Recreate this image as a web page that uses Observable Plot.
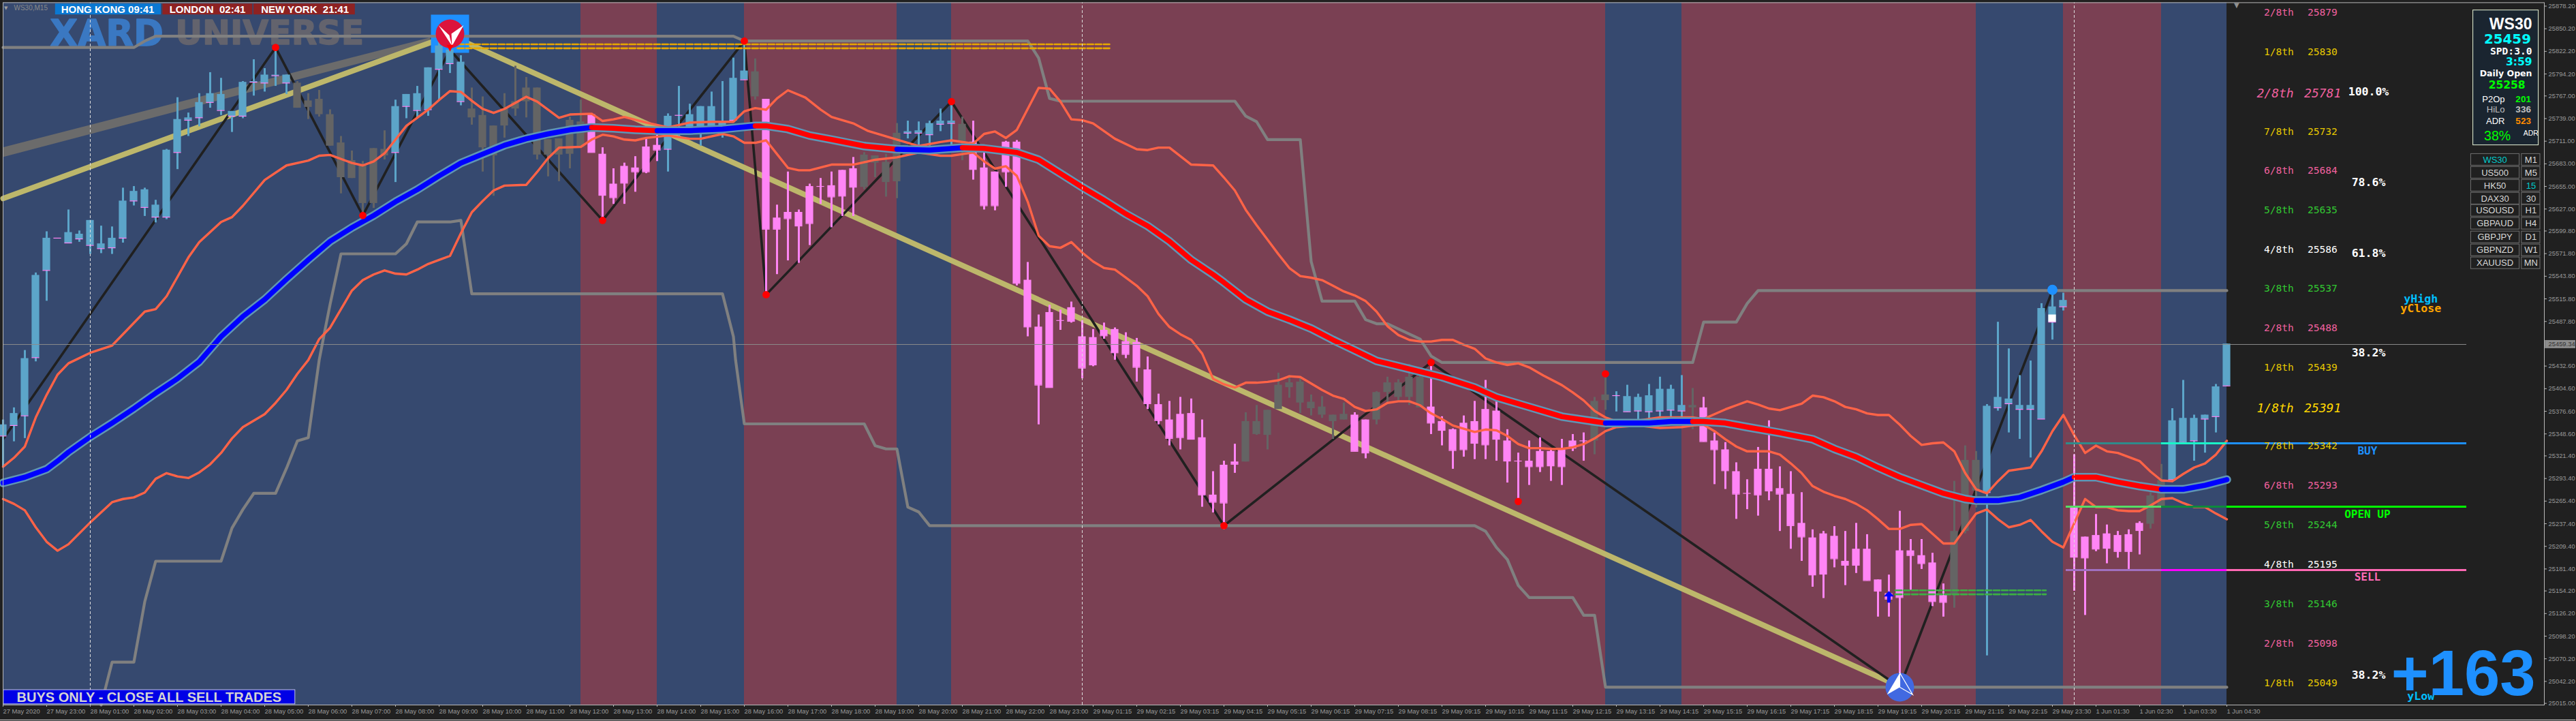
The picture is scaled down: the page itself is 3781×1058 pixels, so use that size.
<!DOCTYPE html>
<html><head><meta charset="utf-8">
<style>html,body{margin:0;padding:0;background:#202020;overflow:hidden}svg{display:block}</style>
<script src="https://cdn.jsdelivr.net/npm/d3@7"></script>
<script src="https://cdn.jsdelivr.net/npm/@observablehq/plot@0.6"></script>
</head><body>
<script>
// ---------- candles (bar index = position in the arrays; 15-minute bars) ----------
const bodyTop=[25360,25374,25442,25545,25591,25591,25598,25596,25613,25584,25591,25637,25649,25651,25632,25700,25738,25740,25759,25770,25769,25748,25784,25785,25793,25793,25793,25783,25761,25763,25744,25709,25687,25681,25702,25701,25754,25769,25770,25802,25829,25824,25809,25751,25743,25730,25751,25760,25777,25777,25713,25714,25737,25735,25744,25695,25658,25680,25678,25704,25706,25742,25743,25744,25754,25754,25736,25789,25798,25797,25763,25616,25623,25623,25655,25655,25656,25675,25677,25694,25693,25685,25721,25723,25724,25733,25736,25736,25732,25710,25678,25673,25710,25710,25539,25481,25499,25489,25505,25469,25468,25477,25478,25463,25462,25428,25385,25366,25373,25374,25344,25273,25310,25314,25364,25364,25378,25409,25412,25413,25388,25382,25372,25373,25372,25366,25400,25412,25412,25419,25419,25382,25364,25354,25362,25364,25379,25377,25340,25315,25315,25327,25327,25329,25340,25340,25389,25397,25396,25395,25394,25396,25404,25404,25384,25384,25381,25340,25329,25302,25275,25305,25305,25281,25274,25238,25220,25225,25222,25191,25206,25206,25168,25151,25204,25204,25198,25189,25150,25228,25316,25316,25383,25394,25392,25384,25384,25504,25506,25514,25259,25221,25223,25225,25223,25224,25238,25272,25291,25365,25368,25368,25372,25407,25460];
const bodyBottom=[25346,25359,25371,25443,25551,25591,25585,25590,25582,25578,25579,25591,25637,25629,25617,25617,25697,25737,25740,25759,25749,25742,25742,25784,25783,25792,25783,25752,25753,25744,25705,25666,25665,25634,25634,25693,25697,25754,25749,25750,25800,25807,25760,25740,25703,25693,25730,25751,25760,25694,25694,25694,25695,25703,25697,25644,25641,25659,25673,25673,25700,25701,25743,25722,25722,25724,25724,25737,25787,25766,25602,25602,25615,25606,25609,25655,25642,25643,25654,25654,25684,25660,25661,25721,25721,25719,25732,25733,25710,25676,25631,25631,25673,25535,25481,25409,25406,25489,25488,25430,25434,25470,25449,25447,25431,25386,25365,25343,25344,25342,25273,25264,25263,25311,25314,25348,25347,25379,25406,25387,25380,25372,25364,25366,25327,25325,25366,25400,25394,25394,25381,25362,25353,25328,25329,25337,25335,25342,25315,25315,25308,25308,25309,25308,25331,25340,25340,25390,25396,25376,25377,25376,25377,25378,25377,25381,25339,25329,25303,25274,25275,25273,25278,25274,25235,25221,25174,25175,25194,25186,25186,25167,25154,25144,25146,25198,25188,25141,25140,25149,25228,25278,25276,25381,25386,25379,25379,25367,25487,25506,25196,25195,25206,25207,25203,25203,25229,25237,25259,25292,25338,25340,25367,25370,25408];
const wickHigh=[25366,25381,25452,25548,25599,25591,25626,25600,25613,25606,25605,25653,25655,25653,25638,25701,25765,25746,25770,25796,25789,25748,25785,25812,25801,25827,25793,25785,25770,25774,25750,25717,25699,25686,25702,25724,25762,25769,25779,25802,25837,25824,25817,25777,25766,25730,25770,25804,25790,25777,25713,25714,25741,25762,25744,25703,25677,25684,25692,25714,25723,25745,25779,25757,25754,25772,25785,25814,25835,25813,25763,25632,25673,25626,25658,25665,25673,25675,25691,25697,25693,25695,25733,25736,25735,25736,25751,25758,25741,25736,25697,25673,25711,25712,25561,25496,25508,25502,25512,25489,25478,25486,25480,25474,25467,25444,25398,25389,25394,25392,25366,25302,25315,25336,25375,25384,25378,25424,25421,25419,25397,25395,25372,25387,25375,25366,25401,25419,25416,25435,25423,25436,25370,25355,25371,25389,25415,25389,25354,25325,25340,25344,25330,25342,25348,25350,25394,25423,25401,25409,25398,25410,25419,25409,25421,25405,25394,25350,25338,25313,25292,25332,25365,25308,25302,25276,25230,25228,25234,25228,25238,25224,25168,25174,25253,25218,25218,25201,25163,25290,25334,25327,25385,25487,25454,25421,25439,25510,25526,25523,25323,25221,25249,25236,25228,25230,25240,25276,25311,25380,25415,25372,25372,25410,25460];
const wickLow=[25307,25339,25343,25438,25513,25591,25585,25586,25571,25572,25571,25585,25631,25618,25610,25614,25676,25717,25729,25752,25743,25722,25739,25767,25772,25779,25769,25752,25738,25741,25705,25646,25665,25621,25628,25688,25660,25739,25740,25742,25761,25795,25755,25731,25673,25643,25715,25742,25740,25688,25667,25661,25677,25703,25697,25614,25633,25633,25648,25671,25686,25673,25717,25722,25705,25724,25715,25737,25787,25762,25521,25546,25563,25560,25582,25633,25604,25618,25618,25651,25666,25642,25640,25714,25705,25705,25723,25705,25687,25663,25626,25625,25654,25532,25469,25360,25406,25477,25486,25417,25432,25466,25440,25442,25413,25379,25360,25334,25329,25342,25258,25251,25230,25300,25314,25347,25329,25379,25393,25374,25371,25368,25342,25366,25327,25318,25360,25387,25390,25384,25381,25348,25334,25305,25320,25317,25317,25315,25288,25265,25285,25301,25290,25285,25327,25315,25323,25378,25376,25376,25364,25364,25370,25369,25366,25354,25339,25286,25280,25243,25255,25247,25266,25228,25206,25191,25159,25145,25183,25161,25176,25167,25122,25122,25052,25155,25181,25135,25122,25133,25225,25257,25074,25377,25350,25342,25319,25367,25465,25501,25154,25124,25203,25188,25195,25181,25199,25231,25259,25292,25338,25315,25325,25350,25408];
const kindRuns=[[0,26,"up"],[27,35,"flat"],[36,42,"up"],[43,53,"flat"],[54,60,"down"],[61,68,"up"],[69,69,"flat"],[70,78,"down"],[79,82,"flat"],[83,87,"up"],[88,88,"flat"],[89,113,"down"],[114,123,"flat"],[124,125,"down"],[126,130,"flat"],[131,145,"down"],[146,147,"flat"],[148,154,"up"],[155,155,"flat"],[156,178,"down"],[179,181,"flat"],[182,189,"up"],[190,196,"down"],[197,198,"flat"],[199,204,"up"]];

// ---------- indicator lines, [bar, price] ----------
const maLine=[[0,25288],[2,25295],[4,25305],[5,25315],[6,25326],[8,25345],[10,25362],[12,25380],[14,25399],[16,25417],[18,25438],[20,25469],[22,25494],[24,25515],[26,25540],[28,25564],[30,25587],[32,25604],[34,25619],[36,25636],[38,25651],[40,25668],[42,25684],[44,25695],[46,25706],[48,25714],[50,25720],[52,25725],[54,25728],[56,25727],[58,25725],[60,25724],[63,25724],[66,25726],[69,25730],[70,25730],[72,25726],[74,25718],[76,25713],[79,25705],[82,25701],[85,25700],[88,25703],[90,25702],[93,25697],[95,25688],[97,25671],[99,25654],[101,25638],[103,25621],[105,25606],[107,25587],[109,25564],[111,25546],[112,25536],[114,25515],[116,25500],[118,25490],[120,25479],[122,25465],[124,25452],[126,25439],[129,25429],[132,25419],[135,25406],[137,25394],[140,25382],[143,25370],[146,25364],[147,25362],[149,25362],[151,25362],[153,25364],[155,25364],[156,25364],[158,25362],[160,25357],[163,25350],[166,25342],[168,25330],[170,25320],[172,25307],[174,25295],[176,25285],[178,25275],[180,25268],[181,25266],[183,25266],[185,25270],[187,25279],[189,25289],[190,25295],[192,25295],[194,25289],[196,25284],[198,25280],[200,25280],[202,25285],[204,25292]];
const maRuns=[[0,54,"#0000ff"],[54,60,"#ff0000"],[60,69,"#0000ff"],[69,82,"#ff0000"],[82,88,"#0000ff"],[88,147,"#ff0000"],[147,155,"#0000ff"],[155,181,"#ff0000"],[181,190,"#0000ff"],[190,198,"#ff0000"],[198,204,"#0000ff"]];
const upperBand=[[0,25308],[1,25319],[2,25333],[3,25369],[4,25397],[5,25422],[6,25436],[8,25449],[10,25458],[13,25500],[14,25503],[15,25519],[17,25567],[18,25586],[20,25611],[21,25617],[22,25631],[24,25663],[26,25681],[28,25687],[29,25693],[30,25694],[32,25684],[33,25681],[34,25686],[35,25696],[36,25713],[37,25730],[39,25750],[40,25762],[41,25773],[42,25772],[43,25761],[44,25751],[45,25746],[46,25751],[48,25766],[49,25760],[51,25740],[52,25744],[54,25745],[55,25736],[56,25738],[57,25741],[59,25734],[61,25728],[63,25734],[65,25735],[67,25735],[68,25748],[69,25752],[70,25750],[71,25764],[72,25774],[73.6,25765],[75,25750],[76,25741],[78,25733],[79.3,25724],[82,25713],[84,25705],[86,25710],[87,25712],[89,25708],[90,25720],[91,25723],[92,25715],[93,25725],[94,25751],[95,25777],[96,25776],[97,25760],[98,25738],[99,25737],[100,25733],[102,25714],[104,25701],[105,25700],[106,25703],[107,25703],[109,25682],[111,25681],[112,25666],[113,25650],[114,25626],[115,25607],[116,25589],[117,25571],[118,25554],[119,25544],[120,25542],[121,25539],[122,25532],[123,25525],[124,25520],[125,25513],[126,25500],[127,25482],[128,25471],[129,25465],[130,25463],[131,25463],[132,25465],[133,25465],[134,25459],[135,25454],[136,25442],[137,25437],[138,25434],[139,25436],[140,25431],[141.3,25421],[143,25409],[144,25400],[145,25390],[146,25377],[147,25369],[148,25364],[150,25365],[152,25369],[154,25369],[155,25369],[156,25367],[157,25373],[158,25379],[159,25384],[160,25389],[161,25385],[162,25380],[163,25378],[164,25382],[165,25386],[166,25396],[167,25394],[168,25389],[169,25382],[170,25379],[171,25374],[172,25372],[173,25372],[174,25360],[175,25346],[176,25335],[177,25337],[178,25338],[179,25327],[180,25300],[181,25280],[182,25275],[183,25290],[184,25303],[185,25305],[186,25307],[187,25327],[188,25352],[189,25372],[190,25347],[191,25325],[192,25334],[193,25327],[194,25325],[195,25320],[196,25315],[197,25302],[198,25291],[199,25290],[200,25299],[201,25307],[202,25312],[203,25323],[204,25340]];
const lowerBand=[[0,25268],[1,25262],[2,25254],[3,25233],[4,25215],[5,25204],[6,25212],[8,25239],[10,25264],[11,25268],[12,25270],[13,25276],[14,25293],[15,25300],[16,25296],[17,25294],[18,25301],[19,25311],[20,25325],[21,25343],[22,25357],[24,25373],[25,25387],[26,25403],[27,25423],[28,25440],[29,25466],[30,25480],[31,25503],[32,25526],[33,25539],[34,25546],[35,25551],[36,25547],[37,25546],[38,25552],[39,25559],[40,25564],[41,25569],[42,25597],[43,25623],[44,25637],[45,25650],[46,25656],[48,25657],[49,25673],[50,25690],[51,25703],[53,25704],[54,25713],[55,25719],[56,25717],[57,25713],[58,25712],[59,25715],[61,25718],[63,25714],[64,25714],[66,25720],[67,25717],[68,25709],[69,25709],[70,25712],[71,25695],[72,25678],[73,25675],[74,25675],[76,25682],[78,25682],[80,25688],[82,25691],[84,25697],[86,25693],[87,25693],[88,25695],[89,25697],[90,25686],[91,25677],[92,25680],[93,25668],[94,25636],[95,25594],[96,25581],[97,25579],[98,25586],[99,25573],[100,25562],[101,25554],[102,25552],[103,25542],[104,25532],[105,25519],[106,25497],[107,25481],[108,25472],[109,25465],[110,25448],[111,25417],[112,25410],[113,25406],[114,25412],[115,25412],[116,25413],[117,25415],[118,25420],[119,25419],[120,25411],[121,25403],[122,25396],[123,25392],[124,25382],[125,25377],[126,25379],[127,25387],[128,25389],[129,25389],[130,25384],[131,25374],[132,25367],[133,25359],[134,25355],[135,25351],[136,25354],[137,25353],[138,25346],[139,25336],[140,25331],[141,25331],[142,25330],[143,25330],[144,25332],[145,25336],[146,25343],[147,25352],[148,25357],[150,25359],[152,25356],[154,25357],[155,25359],[156,25360],[157,25352],[158,25342],[159,25333],[160,25327],[161,25327],[162,25327],[163,25323],[164,25312],[165,25300],[166,25284],[167,25277],[168,25272],[169,25268],[170,25262],[171,25254],[172,25243],[173,25231],[174,25231],[175,25236],[176,25237],[177,25225],[178,25213],[179,25213],[180,25232],[181,25250],[182,25255],[183,25243],[184,25233],[185,25236],[186,25242],[187,25228],[188,25215],[189,25208],[190,25238],[191,25268],[192,25258],[193,25258],[194,25254],[195,25253],[196,25253],[197,25260],[198,25268],[199,25269],[200,25263],[201,25258],[202,25258],[203,25250],[204,25243]];
const channelHigh=[[0,25827],[12,25827],[13,25835],[14,25841],[67,25841],[68,25835],[94,25835],[95,25814],[96,25764],[97,25760.5],[113,25760.5],[114,25742],[115,25735],[116,25713],[119,25713],[120,25562],[121,25513],[124,25513],[125,25490],[126,25485],[127,25485],[130,25466],[131,25445],[132,25437],[155,25437],[156,25487],[159,25487],[160,25510],[161,25526],[204,25526]];
const channelLow=[[9,25013],[10,25066],[12,25066],[13,25141],[14,25191],[20,25191],[21,25232],[22,25255],[23,25275],[25,25275],[26,25306],[27,25340],[28,25344],[28.5,25392],[29,25440],[29.5,25475],[30,25509],[31,25571.5],[36,25571.5],[37,25584],[38,25611],[41,25611],[42,25613],[43,25522],[66,25522],[67,25469],[67.2,25440],[68,25361],[79,25361],[80,25334],[81,25330],[82,25330],[83,25258],[84,25252],[85,25235],[135,25235],[136,25228],[137,25208],[138,25193],[139,25161],[140,25146],[144,25146],[145,25124],[146,25124],[147,25035],[204,25035]];
const zigzag=[[0,25342],[25,25827],[33,25619],[41,25824],[55,25613],[68,25835],[70,25521],[87,25760],[112,25235],[131,25437],[174,25035],[188,25526]];
const trendLine=[[0,25640],[41,25842],[173,25042]];
const wedge=[[0,25703,25691],[39.2,25839,25830]];
const fractalBars=[25,33,55,68,70,87,112,131,139,147];
const fractalPrices=[25827,25619,25613,25835,25521,25760,25235,25437,25265,25423];
const bandEdges=[0,53,60,68,82,87,147,154,181,189,198,204];
const bandColors=["#36496f","#7a4053","#36496f","#7a4053","#36496f","#7a4053","#36496f","#7a4053","#36496f","#7a4053","#36496f"];
const separators=[8,99,190];

// ---------- levels and labels ----------
const bidPrice=25459.34;
const levelLines=[
 [25337,189.25,198,"#2e8b8b"],[25337,198,204,"#19f5c8"],[25337,204,226,"#1e90ff"],
 [25258.5,189.25,198,"#55dd66"],[25258.5,198,204,"#0d8a3c"],[25258.5,204,226,"#00ff00"],
 [25180,189.25,198,"#a070c0"],[25180,198,204,"#ff00ff"],[25180,204,226,"#ff69b4"]];
const mmNames=["2/8th","1/8th","2/8th","7/8th","6/8th","5/8th","4/8th","3/8th","2/8th","1/8th","1/8th","7/8th","6/8th","5/8th","4/8th","3/8th","2/8th","1/8th"];
const mmValues=["25879","25830","25781","25732","25684","25635","25586","25537","25488","25439","25391","25342","25293","25244","25195","25146","25098","25049"];
const mmPrices=[25870,25821,25770,25723,25675,25626,25577,25529,25480,25431,25380,25334,25285,25236,25187,25138,25089,25040];
const mmColors=["#f0609f","#e6c800","#f0609f","#e6c800","#f0609f","#32c832","#ffffff","#32c832","#f0609f","#e6c800","#ffd700","#e6c800","#f0609f","#32c832","#ffffff","#32c832","#f0609f","#e6c800"];
const mmMajor=[2,10];
const fibNames=["100.0%","78.6%","61.8%","38.2%","38.2%"];
const fibPrices=[25772,25660,25572,25449,25050];
const sideNames=["BUY","OPEN UP","SELL","yHigh","yClose","yLow"];
const sideBars=[216.9,216.9,216.9,221.8,221.8,221.8];
const sidePrices=[25327,25249,25171,25516,25504,25024];
const sideColors=["#1e90ff","#00ff00","#ff69b4","#00bfff","#ffa500","#00bfff"];
const symbols=["WS30","US500","HK50","DAX30","USOUSD","GBPAUD","GBPJPY","GBPNZD","XAUUSD"];
const frames=["M1","M5","15","30","H1","H4","D1","W1","MN"];
const rowPrices=[25688,25672,25656,25640,25625,25609,25592,25576,25560];
const priceTicks=[25878.2,25850.2,25822.2,25794.2,25767,25739,25711,25683,25655,25627,25599.8,25571.8,25543.8,25515.8,25487.8,25432.6,25404.6,25376.6,25348.6,25321.4,25293.4,25265.4,25237.4,25209.4,25181.4,25154.2,25126.2,25098.2,25070.2,25042.2,25015];
const timeLabels=["27 May 2020","27 May 23:00","28 May 01:00","28 May 02:00","28 May 03:00","28 May 04:00","28 May 05:00","28 May 06:00","28 May 07:00","28 May 08:00","28 May 09:00","28 May 10:00","28 May 11:00","28 May 12:00","28 May 13:00","28 May 14:00","28 May 15:00","28 May 16:00","28 May 17:00","28 May 18:00","28 May 19:00","28 May 20:00","28 May 21:00","28 May 22:00","28 May 23:00","29 May 01:15","29 May 02:15","29 May 03:15","29 May 04:15","29 May 05:15","29 May 06:15","29 May 07:15","29 May 08:15","29 May 09:15","29 May 10:15","29 May 11:15","29 May 12:15","29 May 13:15","29 May 14:15","29 May 15:15","29 May 16:15","29 May 17:15","29 May 18:15","29 May 19:15","29 May 20:15","29 May 21:15","29 May 22:15","29 May 23:30","1 Jun 01:30","1 Jun 02:30","1 Jun 03:30","1 Jun 04:30"];
const barsPerTick=4;

// ---------- tables ----------
const kindOf=i=>kindRuns.find(r=>i>=r[0]&&i<=r[1])[2];
const candleColor={up:"#5ca5c9",flat:"#646464",down:"#ff85f5"};
const candles=bodyTop.map((t,i)=>({i,top:t,bottom:bodyBottom[i],high:wickHigh[i],low:wickLow[i],kind:kindOf(i),x1:i-.35,x2:i+.35}));
const pts=a=>a.map(([i,p])=>({i,p}));
const bands=bandColors.map((c,k)=>({x1:bandEdges[k],x2:bandEdges[k+1],c}));
const priceMin=25013, priceMax=25882.5;
const T=(t,x,y,o={})=>Plot.text([{t,x,y}],{x:"x",y:"y",text:"t",...o});
const R=(x1,x2,y1,y2,o={})=>Plot.rect([{x1,x2,y1,y2}],{x1:"x1",x2:"x2",y1:"y1",y2:"y2",...o});
const sym=f=>({draw(ctx,size){const k=Math.sqrt(size/Math.PI);f(ctx,k);}});
const poly=(ctx,k,p)=>{ctx.moveTo(p[0][0]*k,p[0][1]*k);p.slice(1).forEach(q=>ctx.lineTo(q[0]*k,q[1]*k));ctx.closePath();};
const mono="DejaVu Sans Mono", arial="Liberation Sans", dj="DejaVu Sans";

const marks=[
 ...bands.map(b=>R(b.x1,b.x2,priceMin,priceMax,{fill:b.c})),
 // brand watermark
 T("XARD",4.3,25844,{textAnchor:"start",fontFamily:dj,fontWeight:"bold",fontSize:53,fill:"#3a78c2",stroke:"#3a78c2",strokeWidth:1.4}),
 T("UNIVERSE",15.8,25844,{textAnchor:"start",fontFamily:dj,fontWeight:"bold",fontSize:49,fill:"#63636d",stroke:"#63636d",strokeWidth:1.4}),
 Plot.areaY(wedge,{x:d=>d[0],y1:d=>d[1],y2:d=>d[2],fill:"#6b6b6b"}),
 Plot.line(pts(trendLine),{x:"i",y:"p",stroke:"#bdb76b",strokeWidth:8}),
 Plot.line(pts(zigzag),{x:"i",y:"p",stroke:"#202020",strokeWidth:3.6}),
 Plot.dot([{i:41,p:25844}],{x:"i",y:"p",r:31.6,symbol:"square",fill:"#1e90ff"}),
 Plot.ruleX(candles,{x:"i",y1:"low",y2:"high",stroke:d=>candleColor[d.kind],strokeWidth:3}),
 Plot.rect(candles,{x1:"x1",x2:"x2",y1:"bottom",y2:"top",fill:d=>candleColor[d.kind]}),
 Plot.ruleY(candles.filter(d=>d.kind!=="flat"),{y:"bottom",x1:"x1",x2:"x2",stroke:"#ff85f5",strokeWidth:1.2}),
 R(187.65,188.35,25487,25496,{fill:"#ffffff"}),
 Plot.line(pts(channelHigh),{x:"i",y:"p",stroke:"#808080",strokeWidth:4.2,strokeLinecap:"round"}),
 Plot.line(pts(channelLow),{x:"i",y:"p",stroke:"#808080",strokeWidth:4.2,strokeLinecap:"round"}),
 ...[[41.7,101.5,25831,25826,"#e8a800"],[173.6,187.4,25155,25150,"#3cb043"]].flatMap(([a,b,p,q,c])=>[p,q].map(v=>
   Plot.line([{i:a,p:v},{i:b,p:v}],{x:"i",y:"p",stroke:c,strokeWidth:2.6,strokeDasharray:"9,3"}))),
 Plot.line(pts(upperBand),{x:"i",y:"p",stroke:"#ff6347",strokeWidth:3.4}),
 Plot.line(pts(lowerBand),{x:"i",y:"p",stroke:"#ff6347",strokeWidth:3.4}),
 Plot.line(pts(maLine),{x:"i",y:"p",stroke:"#5f95b5",strokeWidth:12.5,strokeLinecap:"round"}),
 ...maRuns.map(([a,b,c])=>Plot.line(pts(maLine).filter(d=>d.i>=a&&d.i<=b),{x:"i",y:"p",stroke:c,strokeWidth:7.5,strokeLinecap:"round"})),
 Plot.dot(fractalBars.map((i,k)=>({i,p:fractalPrices[k]})),{x:"i",y:"p",r:5.4,fill:"#ff0000"}),
 Plot.dot([{i:188,p:25527}],{x:"i",y:"p",r:7.5,fill:"#1e90ff"}),
 Plot.dot([{i:173,p:25147}],{x:"i",y:"p",r:8.5,fill:"#0000ff",symbol:sym((c,k)=>poly(c,k,[[0,-1],[.9,-.05],[.3,-.05],[.3,1],[-.3,1],[-.3,-.05],[-.9,-.05]]))}),
 // sell and buy badges
 Plot.dot([{i:41,p:25844}],{x:"i",y:"p",r:21,fill:"#dc143c"}),
 Plot.dot([{i:41,p:25844}],{x:"i",y:"p",r:21,fill:"#ffffff",symbol:sym((c,k)=>{poly(c,k,[[-.8,-.6],[.14,.86],[-.05,.1]]);poly(c,k,[[.95,-.6],[.1,0],[.14,.86]]);})}),
 Plot.dot([{i:41,p:25826}],{x:"i",y:"p",r:5,fill:"#ff0000",symbol:sym((c,k)=>poly(c,k,[[-1,-1],[1,-1],[0,1]]))}),
 Plot.dot([{i:174,p:25035}],{x:"i",y:"p",r:21,fill:"#4169e1"}),
 Plot.dot([{i:174,p:25035}],{x:"i",y:"p",r:21,fill:"#ffffff",symbol:sym((c,k)=>poly(c,k,[[0,-1],[-.9,.52],[0,0]]))}),
 Plot.dot([{i:174,p:25035}],{x:"i",y:"p",r:21,fill:"none",stroke:"#ffffff",strokeWidth:1.2,symbol:sym((c,k)=>poly(c,k,[[0,-1],[.9,.52],[0,0]]))}),
 // separators and price levels
 Plot.ruleX(separators,{y1:priceMin,y2:priceMax,stroke:"#dddddd",strokeWidth:1,strokeDasharray:"4,3"}),
 Plot.ruleY([bidPrice],{x1:0,x2:226,stroke:"#8c8c8c",strokeWidth:1}),
 ...levelLines.map(([p,a,b,c])=>Plot.ruleY([p],{x1:a,x2:b,stroke:c,strokeWidth:3})),
 // session clocks
 R(4.8,14.5,25881,25867.5,{fill:"#0a78d2"}),
 R(14.65,22.9,25881,25867.5,{fill:"#8e2222"}),
 R(23,32.3,25881,25867.5,{fill:"#8e2222"}),
 T("HONG KONG 09:41",9.6,25873.5,{fontFamily:arial,fontWeight:"bold",fontSize:15,fill:"#fff"}),
 T("LONDON\u00a0\u00a002:41",18.75,25873.5,{fontFamily:arial,fontWeight:"bold",fontSize:15,fill:"#fff"}),
 T("NEW YORK\u00a0\u00a021:41",27.7,25873.5,{fontFamily:arial,fontWeight:"bold",fontSize:15,fill:"#fff"}),
 T("WS30,M15",1,25875.5,{textAnchor:"start",fontFamily:arial,fontSize:10,fill:"#8a8a8a"}),
 T("\u25bc",0.1,25875.5,{textAnchor:"start",fontFamily:dj,fontSize:7,fill:"#a0a0a0"}),
 T("\u25bc",204.9,25879,{fontFamily:dj,fontSize:10,fill:"#909090"}),
 // banner
 R(0.05,26.8,25014,25031.5,{fill:"#0000e6",stroke:"#c0c0e8",strokeWidth:1}),
 T("BUYS ONLY - CLOSE ALL SELL TRADES",13.4,25022.5,{fontFamily:arial,fontWeight:"bold",fontSize:20,fill:"#d4d4d4"}),
 // Murrey math labels
 ...mmNames.flatMap((n,k)=>{const big=mmMajor.includes(k);const o={textAnchor:"start",fontFamily:mono,fontSize:big?18:14.6,fontStyle:big?"italic":"normal",fill:mmColors[k]};
   return [T(n,big?206.75:207.4,mmPrices[k],o),T(mmValues[k],big?211.1:211.4,mmPrices[k],o)];}),
 ...fibNames.map((n,k)=>T(n,217,fibPrices[k],{fontFamily:mono,fontWeight:"bold",fontSize:16.5,fill:"#fff"})),
 ...sideNames.map((n,k)=>T(n,sideBars[k],sidePrices[k],{fontFamily:mono,fontWeight:"bold",fontSize:k>2?16.6:16,fill:sideColors[k]})),
 T("+163",225.7,25051,{fontFamily:arial,fontWeight:"bold",fontSize:94,fill:"#1e90ff"}),
 // info panel
 R(226.6,232.6,25873,25706,{fill:"#1a2530",stroke:"#e8f4d8",strokeWidth:1}),
 T("WS30",232,25856,{textAnchor:"end",fontFamily:arial,fontWeight:"bold",fontSize:23,fill:"#fff"}),
 T("25459",231.9,25837,{textAnchor:"end",fontFamily:dj,fontWeight:"bold",fontSize:19.8,fill:"#00ffff"}),
 T("SPD:3.0",232,25822,{textAnchor:"end",fontFamily:mono,fontWeight:"bold",fontSize:14.6,fill:"#fff"}),
 T("3:59",232,25809,{textAnchor:"end",fontFamily:dj,fontWeight:"bold",fontSize:15.5,fill:"#00ffff"}),
 T("Daily Open",232,25795,{textAnchor:"end",fontFamily:dj,fontWeight:"bold",fontSize:12.5,fill:"#fff"}),
 T("25258",229.7,25780,{fontFamily:dj,fontWeight:"bold",fontSize:15.5,fill:"#00ff00"}),
 ...[["P2Op","201",25763,"#fff","#00ff00"],["HiLo","336",25750,"#c0c0c0","#c0c0c0"],["ADR","523",25736,"#fff","#ff8c00"]].flatMap(([a,b,p,c1,c2])=>[
   T(a,229.5,p,{textAnchor:"end",fontFamily:arial,fontSize:13,fill:c1}),
   T(b,231.9,p,{textAnchor:"end",fontFamily:arial,fontWeight:"bold",fontSize:13.5,fill:c2})]),
 T("38%",227.6,25717,{textAnchor:"start",fontFamily:arial,fontSize:19.5,fill:"#00ff00"}),
 T("ADR",231.2,25721,{textAnchor:"start",fontFamily:arial,fontSize:10.5,fill:"#fff"}),
 // symbol and timeframe buttons
 ...symbols.flatMap((s,k)=>[
   R(226.4,230.85,rowPrices[k]-7.2,rowPrices[k]+7.2,{fill:"#202020",stroke:"#707070",strokeWidth:1}),
   R(231.05,232.75,rowPrices[k]-7.2,rowPrices[k]+7.2,{fill:"#202020",stroke:"#707070",strokeWidth:1}),
   T(s,228.6,rowPrices[k],{fontFamily:arial,fontSize:13,fill:k===0?"#00cccc":"#d8d8d8"}),
   T(frames[k],231.9,rowPrices[k],{fontFamily:arial,fontSize:13,fill:k===2?"#00cccc":"#d8d8d8"})]),
 // frame, axes
 Plot.frame({stroke:"#b8b8b8",strokeWidth:1}),
 Plot.ruleY([24994.5],{x1:-0.25,x2:236,stroke:"#dddddd",strokeWidth:1}),
 Plot.axisX({ticks:timeLabels.map((_,k)=>k*barsPerTick),tickFormat:d=>timeLabels[d/barsPerTick],tickSize:3,tickPadding:3,textAnchor:"start",fontSize:9.4,fill:"#9a9a9a",stroke:"#b8b8b8",label:null,anchor:"bottom"}),
 Plot.axisY({ticks:priceTicks,tickFormat:d=>d.toFixed(2),tickSize:3,tickPadding:3,fontSize:9.4,fill:"#9a9a9a",stroke:"#b8b8b8",label:null,anchor:"right"}),
 R(233.2,236,bidPrice-5,bidPrice+5,{fill:"#8c8c8c"}),
 T(bidPrice.toFixed(2),233.5,bidPrice,{textAnchor:"start",fontFamily:arial,fontSize:9.4,fill:"#303030"})
];

const chart=Plot.plot({
 width:3781,height:1058,marginLeft:4,marginRight:47,marginTop:3.4,marginBottom:24,
 style:{background:"#202020",fontFamily:arial},
 x:{type:"linear",domain:[0,233.125],range:[4,3734],axis:null},
 y:{type:"linear",domain:[priceMin,priceMax],range:[1034,3.4],axis:null},
 marks
});
document.body.appendChild(chart);
</script>
</body></html>
